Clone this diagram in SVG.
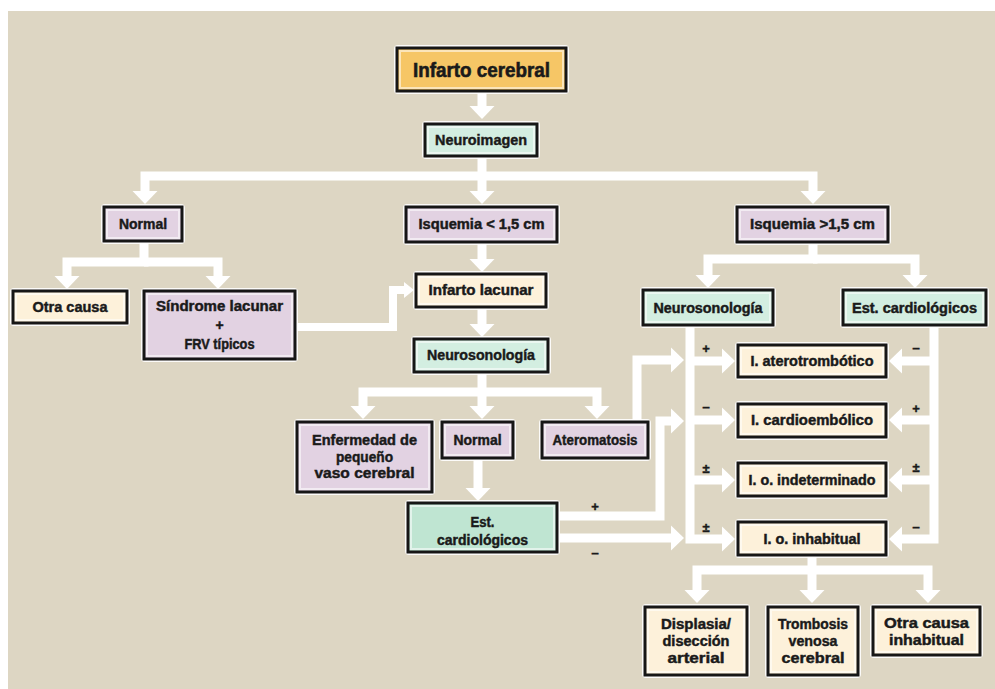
<svg xmlns="http://www.w3.org/2000/svg" width="995" height="689" viewBox="0 0 995 689">
  <defs>
    <marker id="head" markerUnits="userSpaceOnUse" viewBox="0 -13 14 26" refX="0" refY="0" markerWidth="14" markerHeight="26" orient="auto" overflow="visible">
      <path d="M0,-12.5 L13,0 L0,12.5 Z" fill="#ffffff"/>
    </marker>
    <marker id="head-sm" markerUnits="userSpaceOnUse" viewBox="0 -9 11 18" refX="0" refY="0" markerWidth="11" markerHeight="18" orient="auto" overflow="visible">
      <path d="M0,-8 L10,0 L0,8 Z" fill="#ffffff"/>
    </marker>
  </defs>
  <style>
    .halo { fill: #ffffff; opacity: 0.9; }
    .box { stroke: #161616; stroke-width: 3; }
    .inner { fill: none; stroke: #ffffff; stroke-width: 2; opacity: 0.55; }
    .orange { fill: #f6c666; }
    .green { fill: #d3eee1; }
    .green2 { fill: #bfe5d2; }
    .purple { fill: #e2d2e2; }
    .cream { fill: #fdf1da; }
    text { font-family: "Liberation Sans", Arial, sans-serif; font-weight: bold; fill: #1a1a1a; stroke: #1a1a1a; stroke-width: 0.45; text-anchor: middle; font-size: 14px; }
    .big { font-size: 20px; stroke-width: 0.6; }
    .mid { font-size: 15px; }
    .sign { font-size: 13px; }
    .conn path { fill: none; stroke: #ffffff; stroke-width: 9; stroke-linejoin: miter; }
    .conn path.thin { stroke-width: 8; }
  </style>

  <!-- background -->
  <rect x="0" y="0" width="995" height="689" fill="#ffffff"/>
  <rect x="8" y="11" width="987" height="678" fill="#ddd6c3"/>

  <!-- connectors -->
  <g id="connectors" class="conn">
    <path d="M482 91 V106" marker-end="url(#head)"/>
    <path d="M482 156 V191" marker-end="url(#head)"/>
    <path d="M482 176 H145 V191" marker-end="url(#head)"/>
    <path d="M482 176 H813 V191" marker-end="url(#head)"/>

    <path d="M144 241 V262 H67 V276" marker-end="url(#head)"/>
    <path d="M144 262 H218 V276" marker-end="url(#head)"/>

    <path class="thin" d="M295 327 H393 V290 H404" marker-end="url(#head-sm)"/>

    <path d="M482 242 V259" marker-end="url(#head)"/>
    <path d="M482 307 V324" marker-end="url(#head)"/>
    <path d="M482 372 V406" marker-end="url(#head)"/>
    <path d="M482 392 H363 V406" marker-end="url(#head)"/>
    <path d="M482 392 H597 V406" marker-end="url(#head)"/>
    <path d="M478 458 V488" marker-end="url(#head)"/>

    <path d="M813 242 V259 H708 V275" marker-end="url(#head)"/>
    <path d="M813 259 H915 V275" marker-end="url(#head)"/>

    <path d="M690 325 V539 H722" marker-end="url(#head)"/>
    <path d="M690 361 H722" marker-end="url(#head)"/>
    <path d="M690 420 H722" marker-end="url(#head)"/>
    <path d="M690 480 H722" marker-end="url(#head)"/>

    <path d="M934 325 V539 H902" marker-end="url(#head)"/>
    <path d="M934 361 H902" marker-end="url(#head)"/>
    <path d="M934 420 H902" marker-end="url(#head)"/>
    <path d="M934 480 H902" marker-end="url(#head)"/>

    <path d="M637 422 V360 H671" marker-end="url(#head)"/>
    <path d="M557 516 H660 V421 H671" marker-end="url(#head)"/>
    <path d="M557 538 H671" marker-end="url(#head)"/>

    <path d="M812 555 V590" marker-end="url(#head)"/>
    <path d="M812 570 H697 V590" marker-end="url(#head)"/>
    <path d="M812 570 H928 V590" marker-end="url(#head)"/>
  </g>

  <!-- branch signs -->
  <g id="signs">
    <text class="sign" x="706" y="353">+</text>
    <text class="sign" x="706" y="412">−</text>
    <text class="sign" x="706" y="473">±</text>
    <text class="sign" x="706" y="532">±</text>
    <text class="sign" x="916" y="353">−</text>
    <text class="sign" x="916" y="413">+</text>
    <text class="sign" x="916" y="472">±</text>
    <text class="sign" x="916" y="532">−</text>
    <text class="sign" x="595" y="511">+</text>
    <text class="sign" x="595" y="558">−</text>
  </g>

  <!-- nodes -->
  <g id="infarto-cerebral">
    <rect class="halo" x="394" y="45" width="175" height="49" rx="4"/>
    <rect class="box orange" x="397" y="48" width="169" height="43"/>
    <rect class="inner" x="400" y="51" width="163" height="37"/>
    <text class="big" x="481.5" y="77" textLength="137" lengthAdjust="spacingAndGlyphs">Infarto cerebral</text>
  </g>

  <g id="neuroimagen">
    <rect class="halo" x="422" y="121" width="118" height="38" rx="4"/>
    <rect class="box green" x="425" y="124" width="112" height="32"/>
    <rect class="inner" x="428" y="127" width="106" height="26"/>
    <text class="mid" x="481" y="145" textLength="92" lengthAdjust="spacingAndGlyphs">Neuroimagen</text>
  </g>

  <g id="normal-1">
    <rect class="halo" x="101" y="204" width="84" height="40" rx="4"/>
    <rect class="box purple" x="104" y="207" width="78" height="34"/>
    <rect class="inner" x="107" y="210" width="72" height="28"/>
    <text x="143" y="229" textLength="48" lengthAdjust="spacingAndGlyphs">Normal</text>
  </g>

  <g id="isquemia-menor">
    <rect class="halo" x="403" y="204" width="157" height="41" rx="4"/>
    <rect class="box purple" x="406" y="207" width="151" height="35"/>
    <rect class="inner" x="409" y="210" width="145" height="29"/>
    <text x="481.5" y="229" textLength="126" lengthAdjust="spacingAndGlyphs">Isquemia &lt; 1,5 cm</text>
  </g>

  <g id="isquemia-mayor">
    <rect class="halo" x="734" y="204" width="157" height="41" rx="4"/>
    <rect class="box purple" x="737" y="207" width="151" height="35"/>
    <rect class="inner" x="740" y="210" width="145" height="29"/>
    <text x="812.5" y="229" textLength="125" lengthAdjust="spacingAndGlyphs">Isquemia &gt;1,5 cm</text>
  </g>

  <g id="otra-causa">
    <rect class="halo" x="10" y="288" width="120" height="38" rx="4"/>
    <rect class="box cream" x="13" y="291" width="114" height="32"/>
    <rect class="inner" x="16" y="294" width="108" height="26"/>
    <text x="70" y="312" textLength="75" lengthAdjust="spacingAndGlyphs">Otra causa</text>
  </g>

  <g id="sindrome-lacunar">
    <rect class="halo" x="141" y="288" width="157" height="74" rx="4"/>
    <rect class="box purple" x="144" y="291" width="151" height="68"/>
    <rect class="inner" x="147" y="294" width="145" height="62"/>
    <text x="219.5" y="311" textLength="127" lengthAdjust="spacingAndGlyphs">Síndrome lacunar</text>
    <text x="219.5" y="330">+</text>
    <text x="219.5" y="349" textLength="70" lengthAdjust="spacingAndGlyphs">FRV típicos</text>
  </g>

  <g id="infarto-lacunar">
    <rect class="halo" x="413" y="271" width="136" height="39" rx="4"/>
    <rect class="box cream" x="416" y="274" width="130" height="33"/>
    <rect class="inner" x="419" y="277" width="124" height="27"/>
    <text x="481" y="295" textLength="105" lengthAdjust="spacingAndGlyphs">Infarto lacunar</text>
  </g>

  <g id="neurosonologia-1">
    <rect class="halo" x="411" y="336" width="140" height="39" rx="4"/>
    <rect class="box green" x="414" y="339" width="134" height="33"/>
    <rect class="inner" x="417" y="342" width="128" height="27"/>
    <text x="481" y="360" textLength="108" lengthAdjust="spacingAndGlyphs">Neurosonología</text>
  </g>

  <g id="neurosonologia-2">
    <rect class="halo" x="640" y="287" width="136" height="41" rx="4"/>
    <rect class="box green" x="643" y="290" width="130" height="35"/>
    <rect class="inner" x="646" y="293" width="124" height="29"/>
    <text x="708" y="313" textLength="109" lengthAdjust="spacingAndGlyphs">Neurosonología</text>
  </g>

  <g id="est-cardiologicos-2">
    <rect class="halo" x="840" y="287" width="149" height="41" rx="4"/>
    <rect class="box green" x="843" y="290" width="143" height="35"/>
    <rect class="inner" x="846" y="293" width="137" height="29"/>
    <text x="914.5" y="313" textLength="125" lengthAdjust="spacingAndGlyphs">Est. cardiológicos</text>
  </g>

  <g id="enfermedad-pequeno-vaso">
    <rect class="halo" x="294" y="419" width="141" height="76" rx="4"/>
    <rect class="box purple" x="297" y="422" width="135" height="70"/>
    <rect class="inner" x="300" y="425" width="129" height="64"/>
    <text x="364.5" y="445" textLength="105" lengthAdjust="spacingAndGlyphs">Enfermedad de</text>
    <text x="364.5" y="462" textLength="57" lengthAdjust="spacingAndGlyphs">pequeño</text>
    <text x="364.5" y="478" textLength="100" lengthAdjust="spacingAndGlyphs">vaso cerebral</text>
  </g>

  <g id="normal-2">
    <rect class="halo" x="439" y="419" width="77" height="42" rx="4"/>
    <rect class="box purple" x="442" y="422" width="71" height="36"/>
    <rect class="inner" x="445" y="425" width="65" height="30"/>
    <text x="477.5" y="445" textLength="48" lengthAdjust="spacingAndGlyphs">Normal</text>
  </g>

  <g id="ateromatosis">
    <rect class="halo" x="539" y="419" width="112" height="42" rx="4"/>
    <rect class="box purple" x="542" y="422" width="106" height="36"/>
    <rect class="inner" x="545" y="425" width="100" height="30"/>
    <text x="595" y="445" textLength="85" lengthAdjust="spacingAndGlyphs">Ateromatosis</text>
  </g>

  <g id="est-cardiologicos-1">
    <rect class="halo" x="405" y="500" width="155" height="55" rx="4"/>
    <rect class="box green2" x="408" y="503" width="149" height="49"/>
    <rect class="inner" x="411" y="506" width="143" height="43"/>
    <text x="482.5" y="527" textLength="24" lengthAdjust="spacingAndGlyphs">Est.</text>
    <text x="482.5" y="545" textLength="91" lengthAdjust="spacingAndGlyphs">cardiológicos</text>
  </g>

  <g id="aterotrombotico">
    <rect class="halo" x="735" y="342" width="154" height="38" rx="4"/>
    <rect class="box cream" x="738" y="345" width="148" height="32"/>
    <rect class="inner" x="741" y="348" width="142" height="26"/>
    <text x="812" y="366" textLength="123" lengthAdjust="spacingAndGlyphs">I. aterotrombótico</text>
  </g>

  <g id="cardioembolico">
    <rect class="halo" x="735" y="401" width="154" height="39" rx="4"/>
    <rect class="box cream" x="738" y="404" width="148" height="33"/>
    <rect class="inner" x="741" y="407" width="142" height="27"/>
    <text x="812" y="425" textLength="122" lengthAdjust="spacingAndGlyphs">I. cardioembólico</text>
  </g>

  <g id="indeterminado">
    <rect class="halo" x="735" y="460" width="154" height="39" rx="4"/>
    <rect class="box cream" x="738" y="463" width="148" height="33"/>
    <rect class="inner" x="741" y="466" width="142" height="27"/>
    <text x="812" y="485" textLength="127" lengthAdjust="spacingAndGlyphs">I. o. indeterminado</text>
  </g>

  <g id="inhabitual">
    <rect class="halo" x="735" y="519" width="154" height="39" rx="4"/>
    <rect class="box cream" x="738" y="522" width="148" height="33"/>
    <rect class="inner" x="741" y="525" width="142" height="27"/>
    <text x="812" y="544" textLength="97" lengthAdjust="spacingAndGlyphs">I. o. inhabitual</text>
  </g>

  <g id="displasia">
    <rect class="halo" x="642" y="604" width="108" height="74" rx="4"/>
    <rect class="box cream" x="645" y="607" width="102" height="68"/>
    <rect class="inner" x="648" y="610" width="96" height="62"/>
    <text x="696" y="629" textLength="70" lengthAdjust="spacingAndGlyphs">Displasia/</text>
    <text x="696" y="646" textLength="67" lengthAdjust="spacingAndGlyphs">disección</text>
    <text x="696" y="663" textLength="57" lengthAdjust="spacingAndGlyphs">arterial</text>
  </g>

  <g id="trombosis">
    <rect class="halo" x="765" y="604" width="96" height="74" rx="4"/>
    <rect class="box cream" x="768" y="607" width="90" height="68"/>
    <rect class="inner" x="771" y="610" width="84" height="62"/>
    <text x="813" y="629" textLength="70" lengthAdjust="spacingAndGlyphs">Trombosis</text>
    <text x="813" y="646" textLength="49" lengthAdjust="spacingAndGlyphs">venosa</text>
    <text x="813" y="663" textLength="63" lengthAdjust="spacingAndGlyphs">cerebral</text>
  </g>

  <g id="otra-causa-inhabitual">
    <rect class="halo" x="870" y="604" width="113" height="54" rx="4"/>
    <rect class="box cream" x="873" y="607" width="107" height="48"/>
    <rect class="inner" x="876" y="610" width="101" height="42"/>
    <text x="926.5" y="628" textLength="85" lengthAdjust="spacingAndGlyphs">Otra causa</text>
    <text x="926.5" y="645" textLength="75" lengthAdjust="spacingAndGlyphs">inhabitual</text>
  </g>
</svg>
